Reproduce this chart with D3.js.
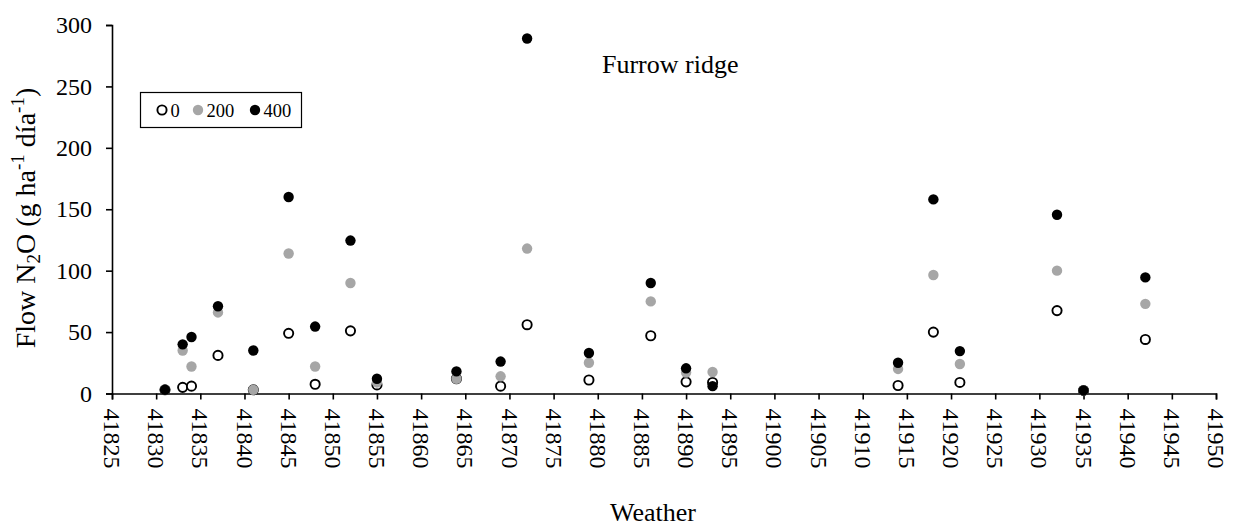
<!DOCTYPE html>
<html>
<head>
<meta charset="utf-8">
<script src="https://cdn.jsdelivr.net/npm/d3@7"></script>
<style>
  html, body { margin: 0; padding: 0; background: #fff; }
  svg { display: block; font-family: "Liberation Serif", "Times New Roman", serif; }
</style>
</head>
<body>
<svg id="chart" width="1233" height="529"></svg>
<script>
// ---- data ----
const dates = [41831, 41833, 41834, 41837, 41841, 41845, 41848, 41852, 41855, 41864, 41869,
               41872, 41879, 41886, 41890, 41893, 41914, 41918, 41921, 41932, 41935, 41942];
const series0   = [3, 5, 6, 31, 3, 49, 7.5, 51, 7, 12, 6, 56, 11, 47, 9.5, 9, 6.5, 50, 9, 67.5, 2.5, 44];
const series200 = [3, 35, 22, 66, 3, 114, 22, 90, 9, 12, 14, 118, 25, 75, 17, 17.5, 20, 96.5, 24, 100, 2.5, 73];
const series400 = [3, 40, 46, 71, 35, 160, 54.5, 124.5, 12, 18, 26, 289, 33, 90, 20.5, 6, 25, 158, 34.5, 145.5, 2.5, 94.5];
const seriesNames = ["0", "200", "400"];
const xTickValues = [41825, 41830, 41835, 41840, 41845, 41850, 41855, 41860, 41865, 41870, 41875,
                     41880, 41885, 41890, 41895, 41900, 41905, 41910, 41915, 41920, 41925, 41930,
                     41935, 41940, 41945, 41950];
const yTickValues = [0, 50, 100, 150, 200, 250, 300];
const titleText = "Furrow ridge";
const xTitle = "Weather";

// ---- drawing ----
const svg = d3.select("#chart");
const x = d3.scaleLinear().domain([41825, 41950]).range([112, 1216]);
const y = d3.scaleLinear().domain([0, 300]).range([393.5, 25]);

const styles = [
  { fill: "#ffffff", stroke: "#000000", sw: 1.9, r: 4.6 },
  { fill: "#a6a6a6", stroke: "none", sw: 0, r: 5.2 },
  { fill: "#000000", stroke: "none", sw: 0, r: 5.2 }
];

// y axis
const yAxis = svg.append("g")
  .attr("transform", `translate(${x(41825)},0)`)
  .call(d3.axisLeft(y).tickValues(yTickValues).tickSize(6).tickPadding(14).tickFormat(d3.format("d")));
yAxis.select(".domain").attr("stroke", "#000").attr("stroke-width", 1.6);
yAxis.selectAll(".tick line").attr("stroke", "#000").attr("stroke-width", 1.6);
yAxis.selectAll(".tick text")
  .attr("font-family", "Liberation Serif, serif").attr("font-size", 24).attr("fill", "#000");

// x axis
const xAxis = svg.append("g")
  .attr("transform", `translate(0,${y(0)})`)
  .call(d3.axisBottom(x).tickValues(xTickValues).tickSize(6).tickFormat(d3.format("d")));
xAxis.select(".domain").attr("stroke", "#000").attr("stroke-width", 1.6);
xAxis.selectAll(".tick line").attr("stroke", "#000").attr("stroke-width", 1.6);
xAxis.selectAll(".tick text")
  .attr("font-family", "Liberation Serif, serif").attr("font-size", 24).attr("fill", "#000")
  .attr("transform", "rotate(90)")
  .attr("x", 15).attr("y", 0).attr("dy", "0.35em")
  .attr("text-anchor", "start");

// series
const allSeries = [series0, series200, series400];
allSeries.forEach((vals, i) => {
  const st = styles[i];
  svg.append("g").selectAll("circle")
    .data(dates.map((d, j) => ({ d, v: vals[j] })))
    .join("circle")
    .attr("cx", p => x(p.d))
    .attr("cy", p => y(p.v))
    .attr("r", st.r)
    .attr("fill", st.fill)
    .attr("stroke", st.stroke)
    .attr("stroke-width", st.sw);
});

// title inside plot
svg.append("text")
  .attr("x", 602).attr("y", 73)
  .attr("font-size", 26).attr("fill", "#000")
  .text(titleText);

// x title
svg.append("text")
  .attr("x", 653).attr("y", 521)
  .attr("text-anchor", "middle")
  .attr("font-size", 26).attr("fill", "#000")
  .text(xTitle);

// y title
const yt = svg.append("text")
  .attr("transform", "translate(35,218) rotate(-90)")
  .attr("text-anchor", "middle")
  .attr("font-size", 28).attr("fill", "#000");
yt.append("tspan").text("Flow N");
yt.append("tspan").attr("font-size", 19).attr("dy", 5).text("2");
yt.append("tspan").attr("dy", -5).text("O (g ha");
yt.append("tspan").attr("font-size", 19).attr("dy", -11).text("-1");
yt.append("tspan").attr("dy", 11).text(" día");
yt.append("tspan").attr("font-size", 19).attr("dy", -11).text("-1");
yt.append("tspan").attr("dy", 11).text(")");

// legend
const lg = svg.append("g");
lg.append("rect").attr("x", 140.5).attr("y", 92.5).attr("width", 161).attr("height", 35)
  .attr("fill", "#fff").attr("stroke", "#000").attr("stroke-width", 1.2);
const legX = [162, 198, 255];
seriesNames.forEach((name, i) => {
  const st = styles[i];
  lg.append("circle").attr("cx", legX[i]).attr("cy", 110).attr("r", st.r)
    .attr("fill", st.fill).attr("stroke", st.stroke).attr("stroke-width", st.sw);
  lg.append("text").attr("x", legX[i] + 8.5).attr("y", 116.5)
    .attr("font-size", 18.5).attr("fill", "#000").text(name);
});
</script>
</body>
</html>
